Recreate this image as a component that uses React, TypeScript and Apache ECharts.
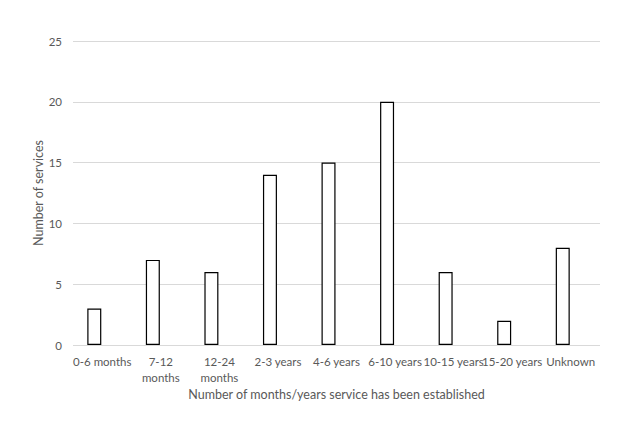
import React, { useEffect, useRef } from "react";
import * as echarts from "echarts";

const categories = [
  "0-6 months",
  "7-12\nmonths",
  "12-24\nmonths",
  "2-3 years",
  "4-6 years",
  "6-10 years",
  "10-15 years",
  "15-20 years",
  "Unknown",
];
const services = [3, 7, 6, 14, 15, 20, 6, 2, 8];
const yTicks = { min: 0, max: 25, interval: 5 };

export default function App() {
  const ref = useRef<HTMLDivElement>(null);
  useEffect(() => {
    document.body.style.margin = "0";
    const chart = echarts.init(ref.current!, null, { renderer: "svg" });
    const font = "Lato, 'Open Sans', sans-serif";
    chart.setOption({
      animation: false,
      backgroundColor: "#ffffff",
      grid: { left: 73, right: 40, top: 41, bottom: 87, containLabel: false },
      xAxis: {
        type: "category",
        data: categories,
        name: "Number of months/years service has been established",
        nameLocation: "middle",
        nameGap: 43,
        nameMoveOverlap: false,
        nameTextStyle: { color: "#595959", fontSize: 12.5, fontFamily: font },
        axisLine: { show: false },
        axisTick: { show: false },
        axisLabel: {
          color: "#595959",
          fontSize: 11.5,
          fontFamily: font,
          interval: 0,
          margin: 8,
          lineHeight: 16,
        },
      },
      yAxis: {
        type: "value",
        min: yTicks.min,
        max: yTicks.max,
        interval: yTicks.interval,
        name: "Number of services",
        nameLocation: "middle",
        nameGap: 28,
        nameMoveOverlap: false,
        nameTextStyle: { color: "#595959", fontSize: 12.5, fontFamily: font },
        axisLine: { show: false },
        axisTick: { show: false },
        axisLabel: { color: "#595959", fontSize: 11.5, fontFamily: font, margin: 11 },
        splitLine: { lineStyle: { color: "#d9d9d9", width: 1 } },
      },
      series: [
        {
          type: "bar",
          data: services,
          barWidth: 14,
          barGap: "14%",
          itemStyle: { color: "#ffffff", borderColor: "#000000", borderWidth: 1.2 },
        },
        {
          type: "bar",
          data: services.map(() => null),
          barWidth: 14,
          silent: true,
          itemStyle: { color: "transparent" },
        },
      ],
    });
    return () => chart.dispose();
  }, []);
  return <div ref={ref} style={{ width: 640, height: 432 }} />;
}
